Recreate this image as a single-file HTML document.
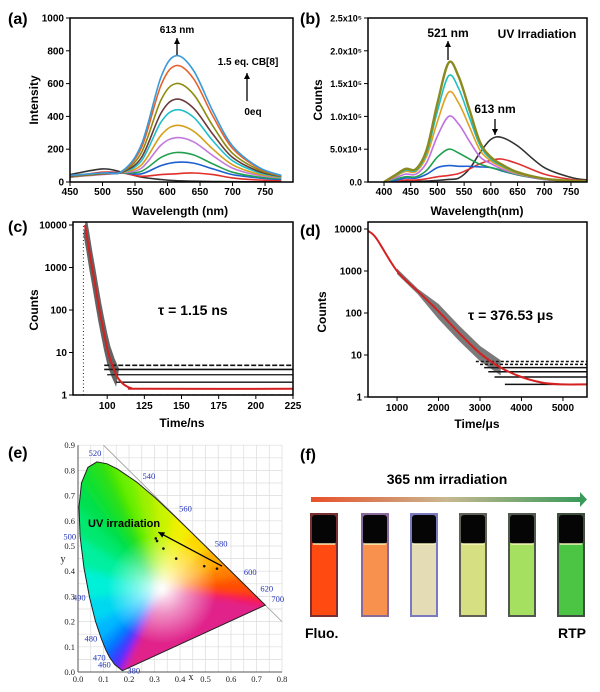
<!DOCTYPE html>
<html><head><meta charset="utf-8">
<style>
body{margin:0;background:#fff;}
svg{display:block;font-family:"Liberation Sans",sans-serif;}
.lbl{font-weight:bold;font-size:10px;}
.ttl{font-weight:bold;font-size:12px;}
.pl{font-weight:bold;font-size:16px;}
.cie{font-family:"Liberation Serif",serif;font-size:8.5px;fill:#222;}
.wl{font-family:"Liberation Serif",serif;font-size:8.5px;fill:#2233bb;}
</style></head>
<body>
<svg id="fig" width="600" height="692" viewBox="0 0 600 692">
<defs>
<linearGradient id="irrGrad" x1="0" x2="1"><stop offset="0" stop-color="#e8502a"/><stop offset="0.5" stop-color="#c8b890"/><stop offset="1" stop-color="#3a9a5a"/></linearGradient>
<radialGradient id="whiteGlow" cx="0.5" cy="0.5" r="0.5"><stop offset="0" stop-color="#fff" stop-opacity="1"/><stop offset="0.45" stop-color="#fff" stop-opacity="0.5"/><stop offset="1" stop-color="#fff" stop-opacity="0"/></radialGradient>
<clipPath id="clipA"><rect x="70" y="18" width="223" height="164"/></clipPath>
<clipPath id="clipB"><rect x="368" y="18" width="219" height="164"/></clipPath>
<clipPath id="clipC"><rect x="73" y="222" width="220" height="173"/></clipPath>
<clipPath id="clipD"><rect x="368" y="222" width="219" height="175"/></clipPath>
<filter id="blurE"><feGaussianBlur stdDeviation="4"/></filter>
</defs>
<g id="gA"></g>
<g id="gB"></g>
<g id="gC"></g>
<g id="gD"></g>
<g id="gE"></g>
<g id="gF"></g>
</svg>
<script>
// ---------- Panel (a) data ----------
const aWave=[450,500,530,560,590,613,640,670,700,740,775];
const aSeries=[
[40,55,65,230,640,770,680,430,220,90,40],
[40,55,65,210,590,710,630,400,205,85,38],
[38,52,62,180,500,600,535,340,175,75,35],
[35,50,60,150,420,505,450,290,150,65,33],
[35,50,60,130,365,440,395,250,130,58,30],
[32,48,58,105,285,345,310,200,105,48,28],
[30,45,56,85,225,270,245,160,85,40,25],
[30,50,55,65,150,180,165,110,60,30,20],
[28,55,55,50,100,120,115,80,45,25,15],
[30,60,55,35,45,50,55,45,25,12,8],
[45,80,60,30,15,8,5,3,2,1,1]];
const aColors=["#3a9ad9","#e8612c","#8c8c10","#6b3a3a","#1fbfc9","#d4a017","#c27ad8","#22a050","#1e5fcf","#e0302a","#333333"];
const aXTicks=[450,500,550,600,650,700,750];
const aYTicks=[0,200,400,600,800,1000];
// ---------- Panel (b) data ----------
const bWave=[400,420,440,460,480,500,521,540,560,580,600,620,650,700,750,780];
const bSeries=[
[0,10000,20000,20000,50000,120000,182000,160000,110000,60000,38000,27000,15000,5000,2000,1000],
[0,9000,18000,18000,45000,108000,162000,142000,98000,55000,35000,25000,14000,5000,2000,1000],
[0,8000,16000,16000,40000,92000,137000,120000,84000,48000,32000,23000,13000,5000,2000,1000],
[0,6000,12000,12000,30000,70000,100000,88000,62000,38000,28000,20000,12000,4000,1500,800],
[0,4000,8000,8000,18000,38000,50000,44000,35000,27000,22000,18000,11000,4000,1500,800],
[0,2000,6000,6000,12000,22000,25000,24000,24000,23000,22000,17000,11000,4000,1500,800],
[0,1000,3000,3000,5000,8000,10000,13000,20000,28000,33000,35000,28000,12000,4000,2000],
[0,500,1000,1000,1500,2500,4000,6000,20000,45000,65000,68000,55000,22000,7000,3000]];
const bColors=["#8a8a20","#20c0c0","#e0a020","#c070e0","#20a050","#2060d0","#e03030","#333333"];
const bXTicks=[400,450,500,550,600,650,700,750];
const bYTicks=[0,50000,100000,150000,200000,250000];
const bYLabels=["0.0","5.0x10⁴","1.0x10⁵","1.5x10⁵","2.0x10⁵","2.5x10⁵"];
// ---------- Panel (c) data ----------
const cFitT=[85,87,89,91,93,95,97,99,101,104,107,111,116,125,225];
const cFitV=[10000,4000,1500,600,230,90,40,18,9,4.5,2.6,1.8,1.45,1.4,1.4];
const cLevels=[1,2,3,4,5];
const cLevelStart=[110,106,100,98,98];
const cXTicks=[100,125,150,175,200,225];
const logTicks=[1,10,100,1000,10000];
// ---------- Panel (d) data ----------
const dFitT=[300,500,1000,1500,2000,2500,3000,3500,4000,4500,5000,5580];
const dFitV=[9000,6000,1000,330,110,33,11,5,3,2.2,2,2];
const dLevels=[2,3,4,5,6,7];
const dLevelStart=[3600,3350,3200,3100,3000,2900];
const dXTicks=[1000,2000,3000,4000,5000];
// ---------- Panel (e) data ----------
const locusNm=[380,460,470,475,480,485,490,495,500,505,510,515,520,525,530,540,550,560,570,580,590,600,620,640,700];
const locusX=[0.1741,0.1440,0.1241,0.1096,0.0913,0.0687,0.0454,0.0235,0.0082,0.0039,0.0139,0.0389,0.0743,0.1142,0.1547,0.2296,0.3016,0.3731,0.4441,0.5125,0.5752,0.6270,0.6915,0.7190,0.7347];
const locusY=[0.0050,0.0297,0.0578,0.0868,0.1327,0.2007,0.2950,0.4127,0.5384,0.6548,0.7502,0.8120,0.8338,0.8262,0.8059,0.7543,0.6923,0.6245,0.5547,0.4866,0.4242,0.3725,0.3083,0.2809,0.2653];
const locusCol=["#6020ff","#3040ff","#0060ff","#0090ff","#00b8ff","#00d8f0","#00f0d8","#00f0a0","#00e870","#00e050","#10e030","#20e020","#30e010","#50e800","#70f000","#a0f000","#c8f400","#f0f000","#ffd800","#ffb000","#ff8000","#ff5000","#ff2020","#ff1030","#ff0040"];
const ciePtsX=[0.305,0.31,0.335,0.385,0.495,0.545];
const ciePtsY=[0.53,0.52,0.49,0.45,0.42,0.41];
const cieLabelNm=[520,540,560,580,600,620,700,500,490,480,470,460,380];
// ---------- Panel (f) data ----------
const vialColors=["#ff4a12","#f8904e","#e4dcb4","#d6e082","#a6e060","#4cc444"];
const vialBorders=["#7a3030","#8a6a9a","#7a7ac0","#606058","#505850","#405040"];

const NS="http://www.w3.org/2000/svg";
function mk(parent,tag,attrs,text){const e=document.createElementNS(NS,tag);for(const k in attrs)e.setAttribute(k,attrs[k]);if(text!==undefined)e.textContent=text;parent.appendChild(e);return e;}
function spline(pts){let d="M"+pts[0][0].toFixed(1)+","+pts[0][1].toFixed(1);for(let i=0;i<pts.length-1;i++){const p0=pts[Math.max(0,i-1)],p1=pts[i],p2=pts[i+1],p3=pts[Math.min(pts.length-1,i+2)];const c1x=p1[0]+(p2[0]-p0[0])/6,c1y=p1[1]+(p2[1]-p0[1])/6,c2x=p2[0]-(p3[0]-p1[0])/6,c2y=p2[1]-(p3[1]-p1[1])/6;d+="C"+c1x.toFixed(1)+","+c1y.toFixed(1)+" "+c2x.toFixed(1)+","+c2y.toFixed(1)+" "+p2[0].toFixed(1)+","+p2[1].toFixed(1);}return d;}
function frame(g,x0,y0,x1,y1){const r=mk(g,"rect",{x:x0,y:y0,width:x1-x0,height:y1-y0,fill:"none",stroke:"#000","stroke-width":1.5});}
function txt(g,x,y,s,cls,anchor,name){const t=mk(g,"text",{x:x,y:y,class:cls,"text-anchor":anchor||"start"},s);return t;}
function arrow(g,x1,y1,x2,y2,name){const a=mk(g,"g",{});mk(a,"line",{x1:x1,y1:y1,x2:x2,y2:y2,stroke:"#000","stroke-width":1.3});const ang=Math.atan2(y2-y1,x2-x1);const L=6,W=3;mk(a,"polygon",{points:`${x2},${y2} ${x2-L*Math.cos(ang)+W*Math.sin(ang)},${y2-L*Math.sin(ang)-W*Math.cos(ang)} ${x2-L*Math.cos(ang)-W*Math.sin(ang)},${y2-L*Math.sin(ang)+W*Math.cos(ang)}`,fill:"#000"});}

// ===== Panel A =====
(function(){
const g=document.getElementById("gA");
const X0=70,X1=293,Y0=18,Y1=182,xmin=450,xmax=793,ymax=1000;
const sx=v=>X0+(v-xmin)/(xmax-xmin)*(X1-X0), sy=v=>Y1-v/ymax*(Y1-Y0);
const cg=mk(g,"g",{"clip-path":"url(#clipA)"});
for(let s=aSeries.length-1;s>=0;s--){const p=mk(cg,"path",{d:spline(aWave.map((w,i)=>[sx(w),sy(aSeries[s][i])])),fill:"none",stroke:aColors[s],"stroke-width":1.6});}
frame(g,X0,Y0,X1,Y1);
aXTicks.forEach(v=>{mk(g,"line",{x1:sx(v),y1:Y1,x2:sx(v),y2:Y1+4,stroke:"#000"});txt(g,sx(v),Y1+13,v,"lbl","middle","x-tick-label");});
aYTicks.forEach(v=>{mk(g,"line",{x1:X0-4,y1:sy(v),x2:X0,y2:sy(v),stroke:"#000"});txt(g,X0-6,sy(v)+3.5,v,"lbl","end","y-tick-label");});
txt(g,180,215,"Wavelength (nm)","ttl","middle","x-axis-title");
const yt=txt(g,0,0,"Intensity","ttl","middle","y-axis-title");yt.setAttribute("transform","translate(38,100) rotate(-90)");
txt(g,8,24,"(a)","pl","start","panel-label-a");
txt(g,177,33,"613 nm","lbl","middle","peak-label");
arrow(g,177,55,177,38,"peak-arrow");
txt(g,248,65,"1.5 eq. CB[8]","lbl","middle","cb8-label");
arrow(g,247,101,247,73,"titration-arrow");
txt(g,253,115,"0eq","lbl","middle","zero-eq-label");
})();

// ===== Panel B =====
(function(){
const g=document.getElementById("gB");
const X0=368,X1=587,Y0=18,Y1=182,xmin=370,xmax=780,ymax=250000;
const sx=v=>X0+(v-xmin)/(xmax-xmin)*(X1-X0), sy=v=>Y1-v/ymax*(Y1-Y0);
const cg=mk(g,"g",{"clip-path":"url(#clipB)"});
for(let s=bSeries.length-1;s>=0;s--){const p=mk(cg,"path",{d:spline(bWave.map((w,i)=>[sx(w),sy(bSeries[s][i])])),fill:"none",stroke:bColors[s],"stroke-width":s===0?2.4:1.6});}
frame(g,X0,Y0,X1,Y1);
bXTicks.forEach(v=>{mk(g,"line",{x1:sx(v),y1:Y1,x2:sx(v),y2:Y1+4,stroke:"#000"});txt(g,sx(v),Y1+13,v,"lbl","middle","x-tick-label");});
bYTicks.forEach((v,i)=>{mk(g,"line",{x1:X0-4,y1:sy(v),x2:X0,y2:sy(v),stroke:"#000"});txt(g,X0-6,sy(v)+3.5,bYLabels[i],"lbl","end","y-tick-label").style.fontSize="9px";});
txt(g,477,215,"Wavelength(nm)","ttl","middle","x-axis-title");
const yt=txt(g,0,0,"Counts","ttl","middle","y-axis-title");yt.setAttribute("transform","translate(322,100) rotate(-90)");
txt(g,300,24,"(b)","pl","start","panel-label-b");
txt(g,448,37,"521 nm","ttl","middle","peak-521-label");
arrow(g,448,60,448,41,"peak-521-arrow");
txt(g,537,38,"UV Irradiation","ttl","middle","uv-label");
txt(g,495,113,"613 nm","ttl","middle","peak-613-label");
arrow(g,495,119,495,135,"peak-613-arrow");
})();

// ===== Panel C =====
(function(){
const g=document.getElementById("gC");
const X0=73,X1=293,Y0=222,Y1=395,xmin=77,xmax=225,top=225;
const sx=v=>X0+(v-xmin)/(xmax-xmin)*(X1-X0), sy=v=>Y1-Math.log10(v)/4*(Y1-top);
const cg=mk(g,"g",{"clip-path":"url(#clipC)"});
const sc=mk(cg,"g",{});
cLevels.forEach((lv,i)=>{mk(sc,"line",{x1:sx(cLevelStart[i]),y1:sy(lv),x2:X1,y2:sy(lv),stroke:"#111","stroke-width":i>2?1.6:1.3,"stroke-dasharray":i===4?"5 2":(i===0?"6 1":"none")});});
mk(sc,"line",{x1:sx(84),y1:sy(1),x2:sx(84),y2:sy(10000),stroke:"#222","stroke-width":1,"stroke-dasharray":"1 2.5"});
const upper=cFitT.filter(t=>t<=107).map((t,i)=>[sx(t)+1.5,sy(cFitV[i]*1.6)]);
const lower=cFitT.filter(t=>t<=107).map((t,i)=>[sx(t)-1.5,sy(Math.max(1.2,cFitV[i]*0.6))]).reverse();
mk(sc,"path",{d:"M"+upper.concat(lower).map(p=>p[0].toFixed(1)+","+p[1].toFixed(1)).join("L")+"Z",fill:"#222","fill-opacity":0.7});
const fit=mk(cg,"path",{d:spline(cFitT.map((t,i)=>[sx(t),sy(cFitV[i])])),fill:"none",stroke:"#d42020","stroke-width":2});

frame(g,X0,Y0,X1,Y1);
cXTicks.forEach(v=>{mk(g,"line",{x1:sx(v),y1:Y1,x2:sx(v),y2:Y1+4,stroke:"#000"});txt(g,sx(v),Y1+14,v,"lbl","middle","x-tick-label");});
logTicks.forEach(v=>{mk(g,"line",{x1:X0-4,y1:sy(v),x2:X0,y2:sy(v),stroke:"#000"});txt(g,X0-6,sy(v)+3.5,v,"lbl","end","y-tick-label");});
txt(g,182,427,"Time/ns","ttl","middle","x-axis-title");
const yt=txt(g,0,0,"Counts","ttl","middle","y-axis-title");yt.setAttribute("transform","translate(38,310) rotate(-90)");
txt(g,8,232,"(c)","pl","start","panel-label-c");
txt(g,158,315,"τ = 1.15 ns","ttl","start","lifetime-label").style.fontSize="14px";
})();

// ===== Panel D =====
(function(){
const g=document.getElementById("gD");
const X0=368,X1=587,Y0=222,Y1=397,xmin=300,xmax=5580,top=229;
const sx=v=>X0+(v-xmin)/(xmax-xmin)*(X1-X0), sy=v=>Y1-Math.log10(v)/4*(Y1-top);
const cg=mk(g,"g",{"clip-path":"url(#clipD)"});
const sc=mk(cg,"g",{});
dLevels.forEach((lv,i)=>{mk(sc,"line",{x1:sx(dLevelStart[i]),y1:sy(lv),x2:X1,y2:sy(lv),stroke:"#111","stroke-width":1.5,"stroke-dasharray":i>3?"3 2":"none"});});
const sel=dFitT.map((t,i)=>i).filter(i=>dFitT[i]>=1000&&dFitT[i]<=3500);
const upper=sel.map(i=>[sx(dFitT[i]),sy(dFitV[i]*(dFitT[i]>1500?1.5:1.15))]);
const lower=sel.map(i=>[sx(dFitT[i]),sy(Math.max(2,dFitV[i]*(dFitT[i]>1500?0.65:0.85)))]).reverse();
mk(sc,"path",{d:"M"+upper.concat(lower).map(p=>p[0].toFixed(1)+","+p[1].toFixed(1)).join("L")+"Z",fill:"#222","fill-opacity":0.6});
const fit=mk(cg,"path",{d:spline(dFitT.map((t,i)=>[sx(t),sy(dFitV[i])])),fill:"none",stroke:"#d42020","stroke-width":2});

frame(g,X0,Y0,X1,Y1);
dXTicks.forEach(v=>{mk(g,"line",{x1:sx(v),y1:Y1,x2:sx(v),y2:Y1+4,stroke:"#000"});txt(g,sx(v),Y1+14,v,"lbl","middle","x-tick-label");});
logTicks.forEach(v=>{mk(g,"line",{x1:X0-4,y1:sy(v),x2:X0,y2:sy(v),stroke:"#000"});txt(g,X0-6,sy(v)+3.5,v,"lbl","end","y-tick-label");});
txt(g,477,428,"Time/μs","ttl","middle","x-axis-title");
const yt=txt(g,0,0,"Counts","ttl","middle","y-axis-title");yt.setAttribute("transform","translate(326,312) rotate(-90)");
txt(g,300,236,"(d)","pl","start","panel-label-d");
txt(g,468,320,"τ = 376.53 μs","ttl","start","lifetime-label").style.fontSize="14px";
})();

// ===== Panel E =====
(function(){
const g=document.getElementById("gE");
const sx=v=>78+v*255, sy=v=>672-v*252;
const grid=mk(g,"g",{});
for(let i=0;i<=16;i++){const v=i*0.05;mk(grid,"line",{x1:sx(v),y1:sy(0),x2:sx(v),y2:sy(0.9),stroke:"#dcdcdc","stroke-width":0.7});}
for(let i=0;i<=18;i++){const v=i*0.05;mk(grid,"line",{x1:sx(0),y1:sy(v),x2:sx(0.8),y2:sy(v),stroke:"#dcdcdc","stroke-width":0.7});}
mk(g,"line",{x1:sx(0),y1:sy(0),x2:sx(0.8),y2:sy(0),stroke:"#555"});
mk(g,"line",{x1:sx(0),y1:sy(0),x2:sx(0),y2:sy(0.9),stroke:"#555"});
mk(g,"line",{x1:sx(0.1),y1:sy(0.9),x2:sx(0.8),y2:sy(0.2),stroke:"#999","stroke-width":0.8});
const wx=0.33,wy=0.33;
const fill=mk(g,"g",{});
const cp=mk(g,"clipPath",{id:"locusClip"});
mk(cp,"polygon",{points:locusX.map((x,i)=>sx(x).toFixed(1)+","+sy(locusY[i]).toFixed(1)).join(" ")});
fill.setAttribute("clip-path","url(#locusClip)");
const inner=mk(fill,"g",{filter:"url(#blurE)"});
for(let i=0;i<locusX.length;i++){const j=(i+1)%locusX.length;
 const ex=(a,b)=>[sx(wx)+(sx(a)-sx(wx))*1.3, sy(wy)+(sy(b)-sy(wy))*1.3];
 const p1=ex(locusX[i],locusY[i]),p2=ex(locusX[j],locusY[j]);
 mk(inner,"polygon",{points:`${sx(wx)},${sy(wy)} ${p1[0]},${p1[1]} ${p2[0]},${p2[1]}`,fill:j===0?"#e0208a":locusCol[i],stroke:j===0?"#e0208a":locusCol[i],"stroke-width":1.5});}
mk(fill,"ellipse",{cx:sx(wx),cy:sy(wy),rx:55,ry:55,fill:"url(#whiteGlow)"});
const loc=mk(g,"polygon",{points:locusX.map((x,i)=>sx(x).toFixed(1)+","+sy(locusY[i]).toFixed(1)).join(" "),fill:"none",stroke:"#222","stroke-width":1});

cieLabelNm.forEach(nm=>{const i=locusNm.indexOf(nm);const x=sx(locusX[i]),y=sy(locusY[i]);let dx,dy,anc;
 if(nm>=520){dx=6;dy=-3;anc="start";if(nm===520){dx=-2;dy=-6;anc="middle";}}else{dx=-4;dy=3;anc="end";}
 if(nm===380){dx=5;dy=3;anc="start";}
 txt(g,x+dx,y+dy,nm,"wl",anc,"wavelength-label");});
[0,0.1,0.2,0.3,0.4,0.5,0.6,0.7,0.8].forEach(v=>txt(g,sx(v),sy(0)+10,v.toFixed(1),"cie","middle","x-tick-label"));
[0,0.1,0.2,0.3,0.4,0.5,0.6,0.7,0.8,0.9].forEach(v=>txt(g,sx(0)-3,sy(v)+3,v.toFixed(1),"cie","end","y-tick-label"));
txt(g,191,680,"x","cie","middle","x-axis-title").style.fontSize="10px";
txt(g,63,562,"y","cie","middle","y-axis-title").style.fontSize="10px";
ciePtsX.forEach((x,i)=>{const c=mk(g,"circle",{cx:sx(x),cy:sy(ciePtsY[i]),r:1.3,fill:"#111"});});
arrow(g,sx(0.565),sy(0.42),sx(0.315),sy(0.555),"uv-arrow");
txt(g,88,527,"UV irradiation","ttl","start","uv-irradiation-label").style.fontSize="11px";
txt(g,8,458,"(e)","pl","start","panel-label-e");
})();

// ===== Panel F =====
(function(){
const g=document.getElementById("gF");
txt(g,300,460,"(f)","pl","start","panel-label-f");
txt(g,447,484,"365 nm irradiation","ttl","middle","irradiation-label").style.fontSize="14px";
const ar=mk(g,"g",{});
mk(ar,"rect",{x:311,y:497,width:270,height:5,fill:"url(#irrGrad)"});
mk(ar,"polygon",{points:"580,492 587,499.5 580,507",fill:"#3a9a5a"});
const xs=[310,361,410,459,508,557];
vialColors.forEach((c,i)=>{const v=mk(g,"g",{});
 mk(v,"rect",{x:xs[i],y:513,width:28,height:104,fill:vialBorders[i]});
 mk(v,"rect",{x:xs[i]+2,y:543,width:24,height:72,fill:c});
 mk(v,"rect",{x:xs[i]+2,y:515,width:24,height:29,fill:"#050505",rx:3});
 mk(v,"rect",{x:xs[i]+3,y:543,width:22,height:2,fill:"#fff8c0","fill-opacity":0.7});});
txt(g,305,638,"Fluo.","ttl","start","fluo-label").style.fontSize="14px";
txt(g,586,638,"RTP","ttl","end","rtp-label").style.fontSize="14px";
})();
</script>
</body></html>
